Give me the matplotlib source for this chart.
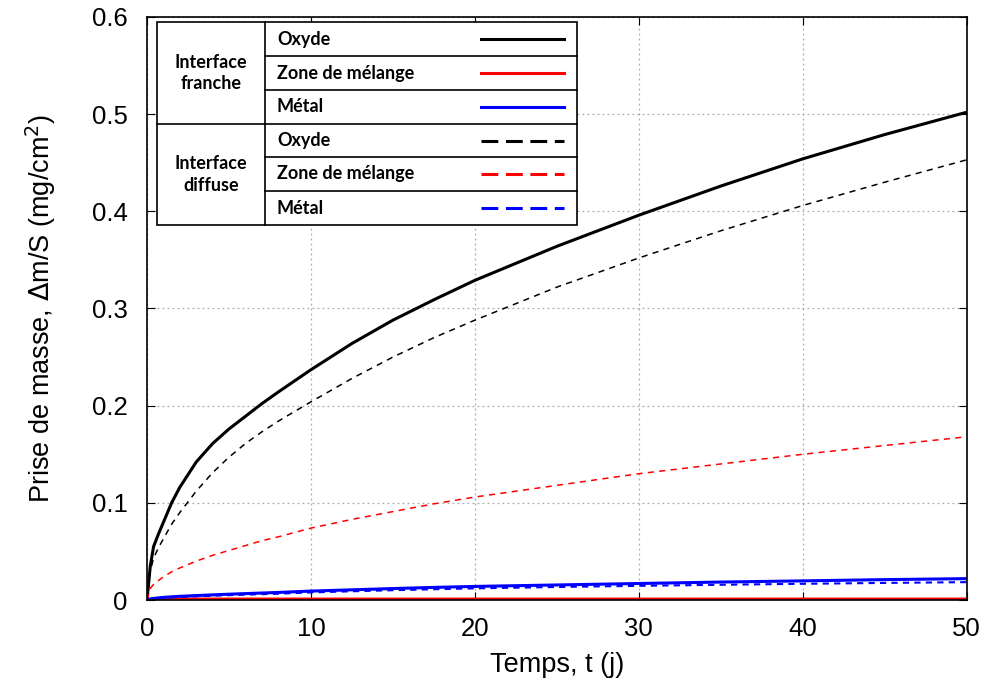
import matplotlib.pyplot as plt
from matplotlib.lines import Line2D
from matplotlib.patches import Rectangle

# temps (jours)
t = [0, 0.2, 0.4, 0.7, 1, 1.5, 2, 3, 4, 5, 6, 7, 8, 10, 12.5, 15, 17.5, 20, 25, 30, 35, 40, 45, 50]

# interface franche
oxyde_franche = [0, 0.035, 0.055, 0.068, 0.08, 0.1, 0.116, 0.142, 0.161, 0.176, 0.189, 0.202, 0.214, 0.237,
                 0.264, 0.288, 0.309, 0.329, 0.364, 0.396, 0.426, 0.454, 0.479, 0.502]
melange_franche = [0, 0.0005, 0.0006, 0.0007, 0.0008, 0.0009, 0.001, 0.001, 0.001, 0.001, 0.001, 0.001, 0.001,
                   0.001, 0.001, 0.001, 0.001, 0.001, 0.001, 0.001, 0.001, 0.001, 0.001, 0.001]
metal_franche = [0, 0.0012, 0.0017, 0.0022, 0.0027, 0.0033, 0.0038, 0.0046, 0.0053, 0.006, 0.0066, 0.0072, 0.0078,
                 0.0092, 0.0105, 0.0118, 0.013, 0.014, 0.0155, 0.017, 0.0185, 0.0197, 0.021, 0.022]

# interface diffuse
oxyde_diffuse = [0, 0.03, 0.043, 0.054, 0.063, 0.078, 0.09, 0.112, 0.131, 0.147, 0.161, 0.173, 0.184, 0.204,
                 0.228, 0.25, 0.27, 0.288, 0.322, 0.352, 0.38, 0.406, 0.43, 0.453]
melange_diffuse = [0, 0.012, 0.016, 0.02, 0.024, 0.029, 0.033, 0.04, 0.046, 0.051, 0.056, 0.061, 0.065, 0.074,
                   0.083, 0.091, 0.099, 0.106, 0.118, 0.13, 0.14, 0.15, 0.159, 0.168]
metal_diffuse = [0, 0.001, 0.0014, 0.0018, 0.0022, 0.0027, 0.0031, 0.0038, 0.0044, 0.005, 0.0055, 0.006, 0.0065,
                 0.0078, 0.009, 0.0101, 0.0111, 0.012, 0.0134, 0.0146, 0.0157, 0.0167, 0.0176, 0.0184]

plt.rcParams['font.family'] = ['Liberation Sans', 'DejaVu Sans']

fig = plt.figure(figsize=(9.9, 6.9), dpi=100)
ax = fig.add_axes([0.1485, 0.1304, 0.828, 0.845])

ax.plot(t, oxyde_franche, color='black', lw=2.2)
ax.plot(t, melange_franche, color='red', lw=2.2)
ax.plot(t, metal_franche, color='blue', lw=2.2)
ax.plot(t, oxyde_diffuse, color='black', lw=1.1, ls=(0, (4, 3.5)))
ax.plot(t, melange_diffuse, color='red', lw=1.1, ls=(0, (4, 3.5)))
ax.plot(t, metal_diffuse, color='blue', lw=1.5, ls=(0, (3, 2.5)))

ax.set_xlim(0, 50)
ax.set_ylim(0, 0.6)
ax.set_xticks([0, 10, 20, 30, 40, 50])
ax.set_yticks([0, 0.1, 0.2, 0.3, 0.4, 0.5, 0.6])
ax.set_yticklabels(['0', '0.1', '0.2', '0.3', '0.4', '0.5', '0.6'])
ax.grid(True, color='#aaaaaa', ls=(0, (1.5, 2.5)), lw=0.9)
ax.tick_params(direction='in', top=True, right=True, labelsize=18.5, length=6)
ax.tick_params(axis='x', pad=12)
ax.tick_params(axis='y', pad=14)
for s in ax.spines.values():
    s.set_linewidth(1.2)
ax.set_xlabel('Temps, t (j)', fontsize=19.5, labelpad=8)
ax.set_ylabel(r'Prise de masse, $\Delta$m/S (mg/cm$^2$)', fontsize=19.5, labelpad=24)

# tableau de légende (coordonnées pixels de la figure)
W, H = 990, 690
def fx(x):
    return x / W
def fy(y):
    return 1 - y / H

x0, x1, xs = 157, 577, 265
rows = [22, 56, 90, 124, 157, 191, 225]
fig.patches.append(Rectangle((fx(x0), fy(rows[-1])), fx(x1) - fx(x0), fy(rows[0]) - fy(rows[-1]),
                             transform=fig.transFigure, facecolor='white', edgecolor='black', lw=1.2, zorder=5))
fig.lines.append(Line2D([fx(xs), fx(xs)], [fy(rows[0]), fy(rows[-1])], transform=fig.transFigure, color='black', lw=1.2, zorder=6))
fig.lines.append(Line2D([fx(x0), fx(x1)], [fy(rows[3]), fy(rows[3])], transform=fig.transFigure, color='black', lw=1.2, zorder=6))
for r in [1, 2, 4, 5]:
    fig.lines.append(Line2D([fx(xs), fx(x1)], [fy(rows[r]), fy(rows[r])], transform=fig.transFigure, color='black', lw=1.2, zorder=6))

groupes = ['Interface\nfranche', 'Interface\ndiffuse']
noms = ['Oxyde', 'Zone de mélange', 'Métal']
couleurs = ['black', 'red', 'blue']
for g in range(2):
    yc = (rows[3 * g] + rows[3 * g + 3]) / 2
    fig.text(fx((x0 + xs) / 2), fy(yc), groupes[g], ha='center', va='center', fontsize=13,
             fontweight='bold', family=['Lato', 'DejaVu Sans'], linespacing=1.3, zorder=7)
    for i in range(3):
        r = 3 * g + i
        yc = (rows[r] + rows[r + 1]) / 2
        fig.text(fx(277), fy(yc), noms[i], ha='left', va='center', fontsize=13,
                 fontweight='bold', family=['Lato', 'DejaVu Sans'], zorder=7)
        ls = '-' if g == 0 else (0, (5.5, 2.5))
        fig.lines.append(Line2D([fx(481), fx(564)], [fy(yc), fy(yc)], transform=fig.transFigure,
                                color=couleurs[i], lw=2.2, ls=ls, zorder=7))

fig.savefig('out.png', dpi=100)
